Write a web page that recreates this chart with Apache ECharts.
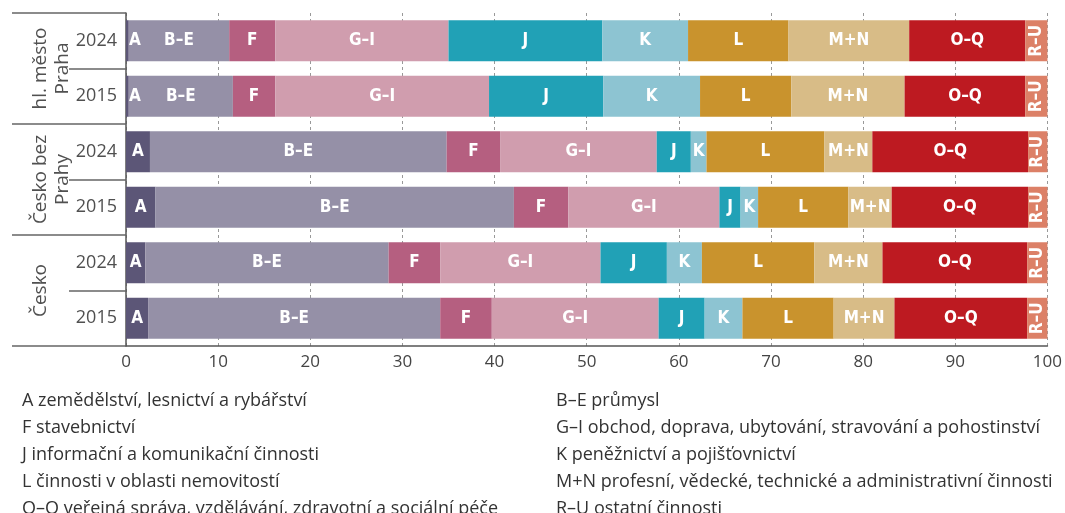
<!DOCTYPE html>
<html>
<head>
<meta charset="utf-8">
<script src="https://cdn.jsdelivr.net/npm/echarts@6/dist/echarts.min.js"></script>
<style>
  html, body { margin: 0; padding: 0; background: #fff; }
  #chart { width: 1065px; height: 513px; }
</style>
</head>
<body>
<div id="chart"></div>
<script>
// rows from top to bottom
const rowKeys = ['Praha|2024', 'Praha|2015', 'bez|2024', 'bez|2015', 'Cesko|2024', 'Cesko|2015']
const groups = ['hl. město\nPraha', 'Česko bez\nPrahy', 'Česko\n ']
const xTicks = [0, 10, 20, 30, 40, 50, 60, 70, 80, 90, 100]

const sectors = ['A', 'B–E', 'F', 'G–I', 'J', 'K', 'L', 'M+N', 'O–Q', 'R–U']
const sectorNames = [
  'zemědělství, lesnictví a rybářství',
  'průmysl',
  'stavebnictví',
  'obchod, doprava, ubytování, stravování a pohostinství',
  'informační a komunikační činnosti',
  'peněžnictví a pojišťovnictví',
  'činnosti v oblasti nemovitostí',
  'profesní, vědecké, technické a administrativní činnosti',
  'veřejná správa, vzdělávání, zdravotní a sociální péče',
  'ostatní činnosti'
]
const colors = ['#5c5677', '#9590a7', '#b55f80', '#d09dae', '#21a1b6', '#8dc4d2', '#c9932d', '#d8bc87', '#bd1a21', '#dc8067']

const valA = [0.3, 0.3, 2.6, 3.2, 2.1, 2.4]
const valBE = [10.9, 11.3, 32.2, 38.9, 26.4, 31.7]
const valF = [5.0, 4.6, 5.8, 5.9, 5.6, 5.6]
const valGI = [18.8, 23.2, 17.0, 16.4, 17.4, 18.1]
const valJ = [16.7, 12.4, 3.7, 2.3, 7.2, 5.0]
const valK = [9.3, 10.5, 1.7, 1.9, 3.8, 4.1]
const valL = [10.9, 9.9, 12.8, 9.8, 12.2, 9.9]
const valMN = [13.1, 12.3, 5.2, 4.7, 7.4, 6.6]
const valOQ = [12.6, 13.1, 16.9, 14.8, 15.7, 14.4]
const valRU = [2.4, 2.4, 2.1, 2.1, 2.2, 2.2]
const values = [valA, valBE, valF, valGI, valJ, valK, valL, valMN, valOQ, valRU]

const chart = echarts.init(document.getElementById('chart'))

const textFont = 'Open Sans'
const barFont = "'DejaVu Sans Condensed', 'Liberation Sans Narrow', Roboto, sans-serif"

const series = sectors.map((s, i) => ({
  name: s,
  type: 'bar',
  stack: 'total',
  barWidth: 41,
  itemStyle: { color: colors[i] },
  label: {
    show: true,
    position: 'inside',
    color: '#fff',
    fontFamily: barFont,
    fontWeight: 'bold',
    fontSize: 17,
    rotate: s === 'R–U' ? 90 : 0,
    formatter: s
  },
  data: values[i].map((v, r) => {
    // the tiny A segment in Praha gets its letter just right of the edge
    if (s === 'A' && v < 1) {
      return { value: v, label: { position: 'insideLeft', distance: 3 } }
    }
    return v
  })
}))

const legendText = name => name + ' ' + sectorNames[sectors.indexOf(name)]
const legendBase = {
  orient: 'vertical',
  top: 382,
  height: 150,
  itemWidth: 0,
  itemHeight: 0,
  itemGap: 0,
  selectedMode: false,
  formatter: legendText,
  textStyle: { fontFamily: textFont, fontSize: 18, color: '#333', lineHeight: 27 }
}

const option = {
  animation: false,
  color: colors,
  grid: { left: 126, right: 17, top: 13, bottom: 167 },
  legend: [
    Object.assign({}, legendBase, { left: 12, data: ['A', 'F', 'J', 'L', 'O–Q'] }),
    Object.assign({}, legendBase, { left: 546, data: ['B–E', 'G–I', 'K', 'M+N', 'R–U'] })
  ],
  xAxis: {
    type: 'value',
    min: 0,
    max: 100,
    interval: 10,
    axisLine: { show: true, lineStyle: { color: '#555', width: 1.5 } },
    axisTick: { show: false },
    axisLabel: {
      fontFamily: textFont,
      fontSize: 17,
      color: '#444',
      margin: 8,
      formatter: v => (xTicks.indexOf(v) >= 0 ? String(v) : '')
    },
    splitLine: { show: true, lineStyle: { color: '#999', type: [3, 3], width: 1 } }
  },
  yAxis: [
    {
      type: 'category',
      position: 'left',
      inverse: true,
      data: rowKeys,
      axisLine: { show: true, lineStyle: { color: '#555', width: 1.5 } },
      axisTick: { show: true, interval: 0, length: 57, lineStyle: { color: '#666', width: 1.5 } },
      axisLabel: {
        interval: 0,
        fontFamily: textFont,
        fontSize: 18,
        color: '#505050',
        margin: 9,
        formatter: v => v.split('|')[1]
      }
    },
    {
      type: 'category',
      position: 'left',
      offset: 0,
      inverse: true,
      data: groups,
      axisLine: { show: false },
      axisTick: { show: true, interval: 0, length: 114, lineStyle: { color: '#666', width: 1.5 } },
      axisLabel: {
        interval: 0,
        fontFamily: textFont,
        fontSize: 19,
        color: '#505050',
        rotate: 90,
        margin: 52,
        lineHeight: 22,
        hideOverlap: false
      }
    }
  ],
  series: series
}

chart.setOption(option)
</script>
</body>
</html>
